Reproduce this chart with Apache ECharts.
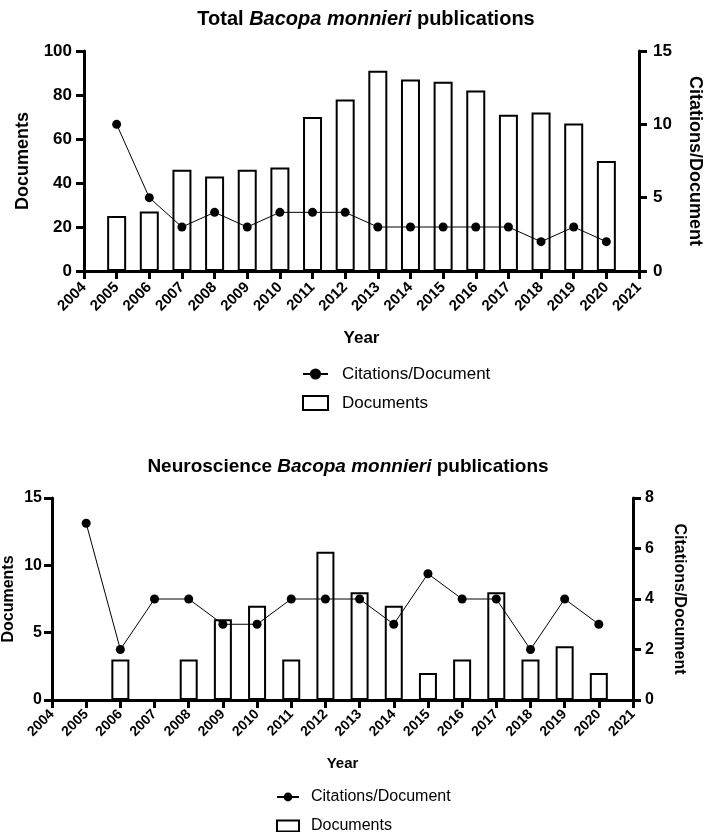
<!DOCTYPE html>
<html>
<head>
<meta charset="utf-8">
<script src="https://cdn.jsdelivr.net/npm/echarts@6/dist/echarts.min.js"></script>
<style>html,body{margin:0;padding:0;background:#fff}#c{width:709px;height:832px}</style>
</head>
<body>
<div id="c"></div>
<script>
// ---- data ----
const years = [2005,2006,2007,2008,2009,2010,2011,2012,2013,2014,2015,2016,2017,2018,2019,2020];
const totalDocuments  = [25,27,46,43,46,47,70,78,91,87,86,82,71,72,67,50];
const totalCitations  = [10,5,3,4,3,4,4,4,3,3,3,3,3,2,3,2];
const neuroDocuments  = [0,3,0,3,6,7,3,11,8,7,2,3,8,3,4,2];
const neuroCitations  = [7,2,4,4,3,3,4,4,4,3,5,4,4,2,4,3];
const yearTicks = [2004,2021];          // x axis range, step 1
const totalDocTicks = [0,20,40,60,80,100];
const totalCitTicks = [0,5,10,15];
const neuroDocTicks = [0,5,10,15];
const neuroCitTicks = [0,2,4,6,8];
const titles = ['Total', 'Neuroscience'];
const species = 'Bacopa monnieri';

const FF = '"Liberation Sans", Arial, Helvetica, sans-serif';
const chart = echarts.init(document.getElementById('c'));

function pairs(ys){ return years.map((y,i)=>[y, ys[i]]); }

function xAxis(grid, fs, nameFs, nameGap, margin){
  return {
    type:'value', gridIndex:grid, min:yearTicks[0], max:yearTicks[1], interval:1,
    name:'Year', nameLocation:'middle', nameGap:nameGap, nameMoveOverlap:false,
    nameTextStyle:{fontFamily:FF, fontWeight:'bold', fontSize:nameFs, color:'#000'},
    axisLine:{show:true, onZero:false, lineStyle:{color:'#000', width:3}},
    axisTick:{show:true, length:8, lineStyle:{color:'#000', width:3}},
    splitLine:{show:false},
    axisLabel:{rotate:45, margin:margin, fontFamily:FF, fontWeight:'bold', fontSize:fs, color:'#000',
      formatter:v=>String(v)}
  };
}
function yAxis(grid, ticks, pos, name, fs, nameFs, nameGap, margin){
  return {
    type:'value', gridIndex:grid, position:pos,
    min:ticks[0], max:ticks[ticks.length-1], interval:ticks[1]-ticks[0],
    name:name, nameLocation:'middle', nameGap:nameGap, nameRotate: pos==='left'?90:-90,
    nameMoveOverlap:false,
    nameTextStyle:{fontFamily:FF, fontWeight:'bold', fontSize:nameFs, color:'#000'},
    axisLine:{show:true, lineStyle:{color:'#000', width:3}},
    axisTick:{show:true, length:8, lineStyle:{color:'#000', width:3}},
    splitLine:{show:false},
    axisLabel:{margin:margin, fontFamily:FF, fontWeight:'bold', fontSize:fs, color:'#000'}
  };
}
function title(prefix, cx, top, fs){
  return {
    text:'{a|'+prefix+' }{b|'+species+'}{a| publications}',
    left:cx, top:top, textAlign:'center',
    textStyle:{rich:{
      a:{fontFamily:FF, fontWeight:'bold', fontSize:fs, color:'#000'},
      b:{fontFamily:FF, fontWeight:'bold', fontStyle:'italic', fontSize:fs, color:'#000'}
    }}
  };
}
function legend(left, top, iw, ih, gap, fs, pad){
  return {
    orient:'vertical', left:left, top:top, height:70, itemWidth:iw, itemHeight:ih, itemGap:gap,
    data:[{name:'Citations/Document'}, {name:'Documents', icon:'rect'}], selectedMode:false,
    textStyle:{fontFamily:FF, fontSize:fs, color:'#000', lineHeight:18, padding:[0,0,0,pad]}
  };
}

const option = {
  animation:false,
  backgroundColor:'#fff',
  title:[ title(titles[0], 361, 4, 20), title(titles[1], 343, 452, 19) ],
  legend:[ legend(297, 360, 25, 14, 11, 17, 9), legend(271, 783, 22, 11, 11, 16, 7) ],
  grid:[
    {left:84, right:70, top:51, height:220, outerBoundsMode:'none', containLabel:false},
    {left:52, right:76, top:498, height:202, outerBoundsMode:'none', containLabel:false}
  ],
  xAxis:[ xAxis(0, 15, 17, 59, 14), xAxis(1, 14, 15, 56, 12) ],
  yAxis:[
    yAxis(0, totalDocTicks, 'left', 'Documents', 17, 18, 52, 12),
    yAxis(0, totalCitTicks, 'right', 'Citations/Document', 17, 18, 47, 14),
    yAxis(1, neuroDocTicks, 'left', 'Documents', 16, 16, 35, 10),
    yAxis(1, neuroCitTicks, 'right', 'Citations/Document', 16, 16, 38, 12)
  ],
  series:[
    {name:'Documents', type:'bar', xAxisIndex:0, yAxisIndex:0, barWidth:19, z:2,
      itemStyle:{color:'#fff', borderColor:'#000', borderWidth:2}, data:pairs(totalDocuments)},
    {name:'Citations/Document', type:'line', xAxisIndex:0, yAxisIndex:1, z:3,
      symbol:'circle', symbolSize:9, lineStyle:{color:'#000', width:1}, itemStyle:{color:'#000'},
      data:pairs(totalCitations)},
    {name:'Documents', type:'bar', xAxisIndex:1, yAxisIndex:2, barWidth:18, z:2,
      itemStyle:{color:'#fff', borderColor:'#000', borderWidth:2}, data:pairs(neuroDocuments)},
    {name:'Citations/Document', type:'line', xAxisIndex:1, yAxisIndex:3, z:3,
      symbol:'circle', symbolSize:9, lineStyle:{color:'#000', width:1}, itemStyle:{color:'#000'},
      data:pairs(neuroCitations)}
  ]
};
chart.setOption(option);
</script>
</body>
</html>
